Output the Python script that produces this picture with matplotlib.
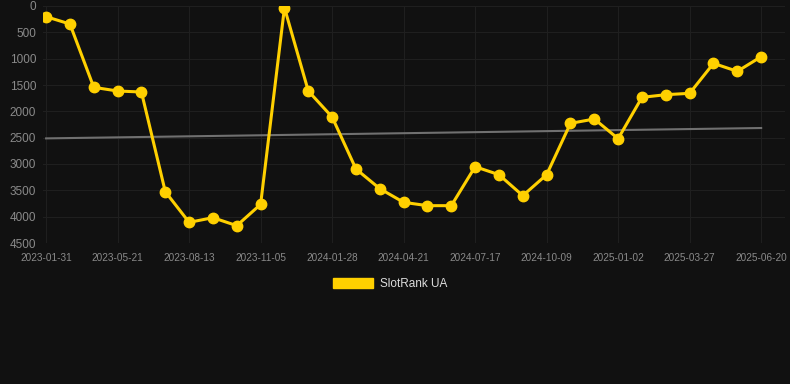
import numpy as np
import matplotlib
matplotlib.use('Agg')
import matplotlib.pyplot as plt
from matplotlib.patches import Patch

# 数据：每个点一个日期（等距类别轴），只标注每隔3个的日期
tick_labels = ['2023-01-31', '2023-05-21', '2023-08-13', '2023-11-05', '2024-01-28',
               '2024-04-21', '2024-07-17', '2024-10-09', '2025-01-02', '2025-03-27',
               '2025-06-20']
rank_values = [203, 342, 1544, 1614, 1633, 3525, 4108, 4019, 4171, 3766,
               32, 1614, 2108, 3095, 3468, 3728, 3791, 3791, 3051, 3203,
               3601, 3203, 2228, 2146, 2519, 1734, 1684, 1658, 1089, 1241, 962]
series_name = 'SlotRank UA'

bg = '#111111'
gold = '#FFD000'
plt.rcParams['font.family'] = ['Liberation Sans', 'DejaVu Sans']

fig = plt.figure(figsize=(7.9, 3.84), dpi=100, facecolor=bg)
ax = fig.add_axes([43/790, 141/384, 742/790, 237/384])
ax.set_facecolor(bg)

x = np.arange(len(rank_values))
y = np.array(rank_values)

# 趋势线（线性回归）
k, b = np.polyfit(x, y, 1)
ax.plot(x, k*x + b, color='#707070', lw=1.5, zorder=2)

ax.plot(x, y, color=gold, lw=2.2, marker='o', markersize=7.5, zorder=3)

ax.set_xlim(-0.13, 31.0)
ax.set_ylim(4500, 0)
ax.set_yticks(np.arange(0, 4501, 500))
ax.set_xticks(x[::3])
ax.set_xticklabels(tick_labels)

ax.tick_params(axis='x', colors='#8a8a8a', labelsize=7.2, length=0, pad=7)
ax.tick_params(axis='y', colors='#8a8a8a', labelsize=8.5, length=0, pad=5)
ax.grid(True, color='#1f1f1f', lw=0.8)
ax.set_axisbelow(True)
for s in ax.spines.values():
    s.set_visible(False)

fig.legend(handles=[Patch(facecolor=gold, edgecolor=gold)], labels=[series_name],
           loc='center', bbox_to_anchor=(390/790, 1 - 284/384), frameon=False,
           fontsize=8.5, labelcolor='#dddddd', handlelength=3.4, handleheight=1.0,
           handletextpad=0.6)

fig.savefig('out.png', dpi=100, facecolor=bg)
